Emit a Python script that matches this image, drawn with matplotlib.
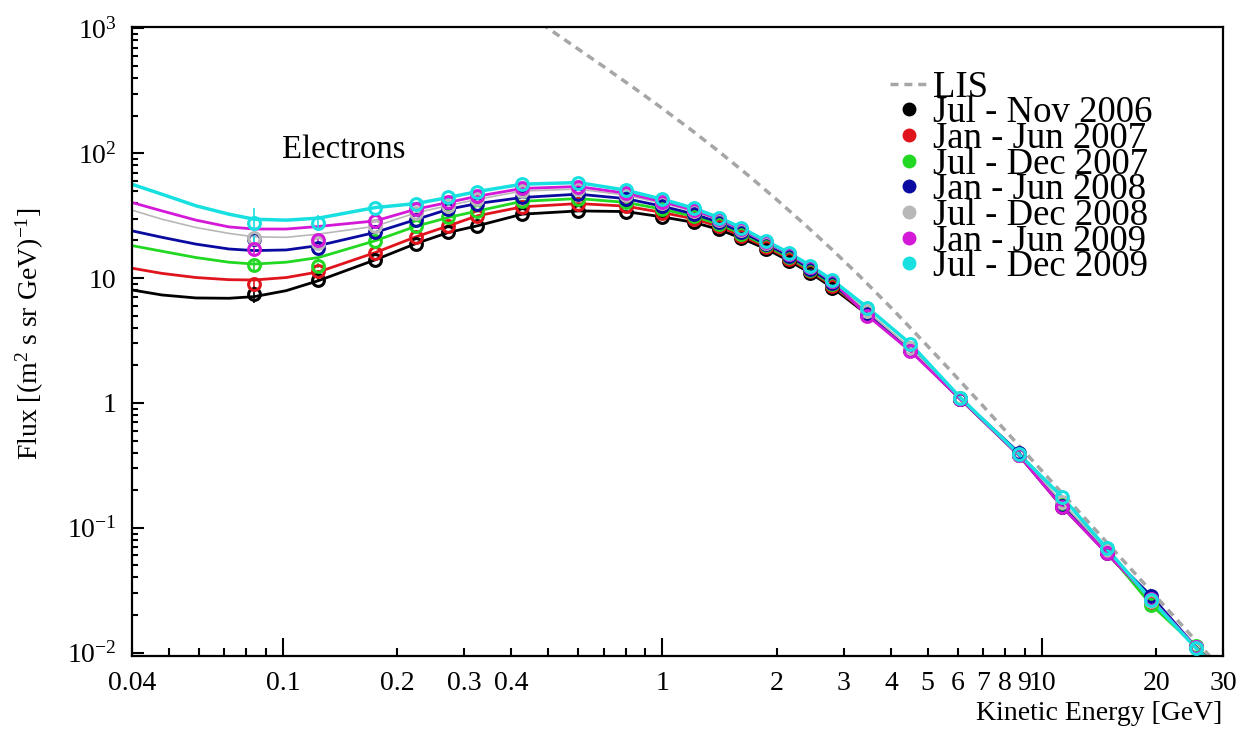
import matplotlib
matplotlib.use('Agg')
import matplotlib.pyplot as plt
from matplotlib.lines import Line2D

plt.rcParams['font.family'] = 'Liberation Serif'
plt.rcParams['mathtext.fontset'] = 'custom'
plt.rcParams['mathtext.rm'] = 'Liberation Serif'
plt.rcParams['mathtext.it'] = 'Liberation Serif:italic'

# measured points (GeV, flux)
energy = [0.084, 0.124, 0.175, 0.224, 0.273, 0.325, 0.427, 0.60, 0.80, 1.0, 1.21, 1.41, 1.61,
          1.87, 2.15, 2.45, 2.8, 3.47, 4.5, 6.1, 8.7, 11.3, 14.8, 19.4, 25.5]

flux_jul_nov_2006 = [7.46, 9.66, 14.0, 18.9, 23.2, 26.2, 32.5, 34.5, 34.1, 30.9, 27.9, 24.5, 20.9,
                     17.2, 13.8, 11.0, 8.4, 5.1, 2.65, 1.07, 0.38, 0.148, 0.063, 0.026, 0.011]
flux_jan_jun_2007 = [8.97, 11.3, 16.0, 21.4, 26.2, 31.5, 37.2, 39.5, 37.7, 33.5, 29.8, 25.9, 21.9,
                     17.8, 14.3, 11.3, 8.7, 5.2, 2.7, 1.08, 0.385, 0.15, 0.064, 0.0255, 0.011]
flux_jul_dec_2007 = [12.7, 12.6, 19.9, 26.0, 30.6, 34.4, 41.2, 43.3, 40.4, 35.6, 31.2, 27.0, 22.7,
                     18.3, 14.7, 11.6, 8.9, 5.3, 2.7, 1.09, 0.385, 0.155, 0.065, 0.0242, 0.0112]
flux_jan_jun_2008 = [20.7, 17.4, 23.2, 29.4, 35.6, 39.5, 44.2, 47.0, 43.3, 37.6, 32.6, 28.0, 23.5,
                     18.8, 15.1, 11.9, 9.1, 5.2, 2.65, 1.08, 0.40, 0.15, 0.064, 0.0285, 0.011]
flux_jul_dec_2008 = [21.0, 19.0, 26.0, 33.3, 38.1, 42.7, 49.8, 51.6, 46.2, 39.7, 34.2, 29.0, 24.3,
                     19.2, 15.5, 12.2, 9.4, 5.4, 2.75, 1.09, 0.385, 0.16, 0.066, 0.026, 0.011]
flux_jan_jun_2009 = [17.1, 20.2, 28.7, 35.6, 40.4, 45.2, 52.2, 54.1, 47.9, 40.9, 35.0, 29.6, 24.7,
                     19.5, 15.7, 12.3, 9.5, 5.0, 2.6, 1.07, 0.38, 0.147, 0.0625, 0.027, 0.011]
flux_jul_dec_2009 = [27.4, 27.8, 36.7, 39.5, 44.2, 49.3, 56.5, 58.2, 50.6, 42.8, 36.3, 30.5, 25.4,
                     19.9, 16.0, 12.6, 9.66, 5.8, 2.98, 1.10, 0.389, 0.177, 0.0685, 0.0265, 0.0108]

# errors on the two lowest energy points
err_jul_nov_2006 = [1.2, 0.4]
err_jan_jun_2007 = [0.8, 0.4]
err_jul_dec_2007 = [1.0, 0.5]
err_jan_jun_2008 = [1.5, 0.6]
err_jul_dec_2008 = [1.5, 0.6]
err_jan_jun_2009 = [1.5, 0.7]
err_jul_dec_2009 = [9.0, 4.0]

# fitted curves below the data, joined to the points above 0.15 GeV
fit_energy_low = [0.04, 0.048, 0.059, 0.072, 0.084, 0.102, 0.124]
fit_jul_nov_2006 = [8.03, 7.32, 6.93, 6.89, 7.1, 7.93, 9.53]
fit_jan_jun_2007 = [12.0, 10.9, 10.1, 9.71, 9.65, 10.1, 11.2]
fit_jul_dec_2007 = [18.2, 16.4, 14.6, 13.4, 12.95, 13.4, 14.6]
fit_jan_jun_2008 = [23.9, 21.2, 18.7, 17.1, 16.6, 16.8, 18.2]
fit_jul_dec_2008 = [35.0, 29.6, 25.4, 22.8, 21.4, 21.2, 22.5]
fit_jan_jun_2009 = [40.3, 34.5, 29.1, 25.7, 24.7, 24.7, 25.9]
fit_jul_dec_2009 = [56.4, 46.9, 37.9, 32.5, 29.6, 29.1, 30.2]
fit_energy_tail = [30.0]
fit_flux_tail = [0.0067]

# local interstellar spectrum
lis_energy = [0.48, 0.5, 0.6, 0.7, 0.85, 1.0, 1.2, 1.4, 1.7, 2.0, 2.4, 2.8, 3.3, 4.0, 4.8, 5.7,
              7.0, 9.0, 12.0, 16.0, 21.0, 27.0, 30.0]
lis_flux = [1092, 1000, 682, 494, 326, 228, 151, 104.7, 64.8, 42.5, 26.0, 16.9, 10.46, 5.81, 3.25,
            1.86, 0.943, 0.406, 0.155, 0.0591, 0.0238, 0.0102, 0.0072]

labels = ['Jul - Nov 2006', 'Jan - Jun 2007', 'Jul - Dec 2007', 'Jan - Jun 2008',
          'Jul - Dec 2008', 'Jan - Jun 2009', 'Jul - Dec 2009']
colors = ['#000000', '#e0141c', '#22d822', '#0a0aa0', '#b8b8b8', '#d418d8', '#18e0e0']
line_widths = [2.0, 2.0, 2.0, 2.0, 1.2, 2.0, 2.5]
points = [flux_jul_nov_2006, flux_jan_jun_2007, flux_jul_dec_2007, flux_jan_jun_2008,
          flux_jul_dec_2008, flux_jan_jun_2009, flux_jul_dec_2009]
errors = [err_jul_nov_2006, err_jan_jun_2007, err_jul_dec_2007, err_jan_jun_2008,
          err_jul_dec_2008, err_jan_jun_2009, err_jul_dec_2009]
fits_low = [fit_jul_nov_2006, fit_jan_jun_2007, fit_jul_dec_2007, fit_jan_jun_2008,
            fit_jul_dec_2008, fit_jan_jun_2009, fit_jul_dec_2009]

fig = plt.figure(figsize=(12.51, 7.31), dpi=100)
ax = fig.add_axes([0.1055, 0.1026, 0.8721, 0.8608])
ax.set_xscale('log')
ax.set_yscale('log')

ax.plot(lis_energy, lis_flux, ls=(0, (2.3, 1.7)), color='#a6a6a6', lw=2.5, zorder=1)

for flux, fit, col, lw in zip(points, fits_low, colors, line_widths):
    fit_x = fit_energy_low + energy[2:] + fit_energy_tail
    fit_y = fit + flux[2:] + fit_flux_tail
    ax.plot(fit_x, fit_y, color=col, lw=lw, zorder=2)
for flux, err, col in zip(points, errors, colors):
    ax.errorbar(energy[:2], flux[:2], yerr=err, fmt='none', ecolor=col, elinewidth=1.2, zorder=3)
    ax.plot(energy, flux, 'o', ms=8.5, mfc='none', mec=col, mew=2.2, zorder=4)

ax.set_xlim(0.04, 30)
ax.set_ylim(0.0094, 1030)

x_major = [0.1, 1, 10]
x_major_labels = ['0.1', '1', '10']
x_minor = [0.04, 0.05, 0.06, 0.07, 0.08, 0.09, 0.2, 0.3, 0.4, 0.5, 0.6, 0.7, 0.8, 0.9,
           2, 3, 4, 5, 6, 7, 8, 9, 20, 30]
x_minor_labels = ['0.04', '', '', '', '', '', '0.2', '0.3', '0.4', '', '', '', '', '',
                  '2', '3', '4', '5', '6', '7', '8', '9', '20', '30']
ax.set_xticks(x_major, x_major_labels)
ax.set_xticks(x_minor, x_minor_labels, minor=True)

y_major = [0.01, 0.1, 1, 10, 100, 1000]
y_major_labels = ['$10^{-2}$', '$10^{-1}$', '1', '10', '$10^{2}$', '$10^{3}$']
y_minor = [m * d for d in [0.01, 0.1, 1, 10, 100] for m in range(2, 10)]
ax.set_yticks(y_major, y_major_labels)
ax.set_yticks(y_minor, minor=True)
ax.yaxis.set_minor_formatter(plt.NullFormatter())

ax.tick_params(which='both', direction='in', top=False, right=False, width=1.5, labelsize=20, pad=11)
ax.tick_params(axis='x', which='major', length=13)
ax.tick_params(axis='x', which='minor', length=6)
ax.tick_params(axis='y', which='major', length=8.5)
ax.tick_params(axis='y', which='minor', length=4.3)
for sp in ax.spines.values():
    sp.set_linewidth(1.6)

ax.text(0.1375, 0.804, 'Electrons', transform=ax.transAxes, fontsize=23.5, va='center', ha='left')

fig.text(0.977, 0.0246, 'Kinetic Energy [GeV]', fontsize=20, ha='right', va='center')
fig.text(0.024, 0.543, r'Flux [(m$^{2}$ s sr GeV)$^{-1}$]', fontsize=20, rotation=90,
         ha='center', va='center')

handles = [Line2D([], [], ls=(0, (2.3, 1.7)), color='#a6a6a6', lw=2.5)]
for col in colors:
    handles.append(Line2D([], [], ls='none', marker='o', ms=9, color=col))
ax.legend(handles, ['LIS'] + labels, loc='upper left', bbox_to_anchor=(0.695, 0.931),
          frameon=False, fontsize=26.5, labelspacing=-0.24, handlelength=1.0,
          handletextpad=0.16, borderpad=0, borderaxespad=0)

fig.savefig('out.png', dpi=100)
